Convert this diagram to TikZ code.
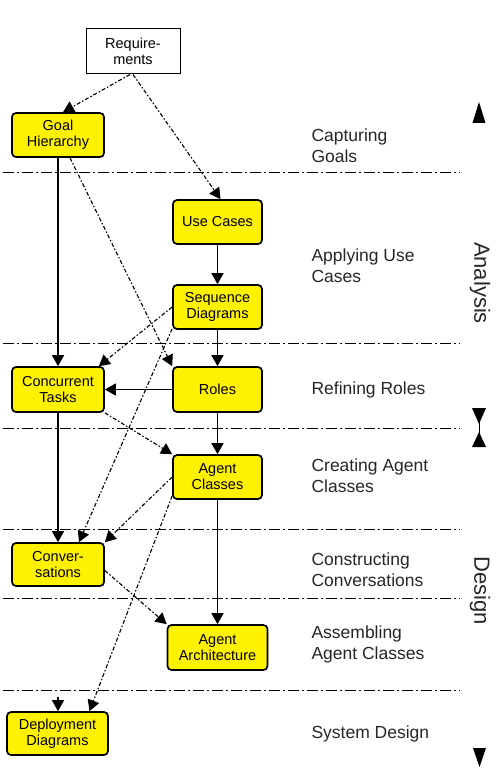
\documentclass[tikz,border=0pt]{standalone}
\usepackage{fontspec}
\setmainfont{Liberation Sans}
\usetikzlibrary{arrows.meta,calc}
\begin{document}
\begin{tikzpicture}[x=1pt,y=-1pt,
  yellowbox/.style={draw=black,line width=1.7pt,fill=yellow,rounded corners=4pt,
    inner sep=0pt,align=center,font=\fontsize{14.5}{16}\selectfont},
  reqbox/.style={draw=black,line width=1pt,fill=white,inner sep=0pt,align=center,
    font=\fontsize{14.5}{16}\selectfont},
  solidarrow/.style={line width=1.5pt,-{Triangle[width=12pt,length=11pt]}},
  dasharrow/.style={line width=1.1pt,dash pattern=on 4pt off 2pt on 1.5pt off 2pt,
    -{Triangle[width=12pt,length=11pt]}},
  sepline/.style={line width=1pt,dash pattern=on 11pt off 3pt on 2pt off 3pt},
  phase/.style={anchor=west,align=left,font=\fontsize{17.5}{21}\selectfont,text=black!85},
  sidelabel/.style={rotate=-90,font=\fontsize{22}{24}\selectfont,text=black!85},
]
\useasboundingbox (0,0) rectangle (500,773);

% separator lines
\foreach \yy in {172,343,428,529,598,690}
  \draw[sepline] (3,\yy) -- (460,\yy);

% boxes
\node[reqbox,minimum width=94pt,minimum height=45pt] (req) at (133,51.5) {Require-\\ments};
\node[yellowbox,minimum width=92pt,minimum height=44pt] (goal) at (58,135) {Goal\\Hierarchy};
\node[yellowbox,minimum width=89pt,minimum height=44pt] (use) at (217.5,222) {Use Cases};
\node[yellowbox,minimum width=89pt,minimum height=44pt] (seq) at (217.5,307) {Sequence\\Diagrams};
\node[yellowbox,minimum width=92pt,minimum height=45pt] (conc) at (58,389.5) {Concurrent\\Tasks};
\node[yellowbox,minimum width=89pt,minimum height=45pt] (roles) at (217.5,389.5) {Roles};
\node[yellowbox,minimum width=89pt,minimum height=44pt] (agent) at (217.5,477) {Agent\\Classes};
\node[yellowbox,minimum width=92pt,minimum height=43pt] (conv) at (58,564.5) {Conver-\\sations};
\node[yellowbox,minimum width=100pt,minimum height=45pt] (arch) at (217.5,647.5) {Agent\\Architecture};
\node[yellowbox,minimum width=101pt,minimum height=43pt] (dep) at (57.5,733.5) {Deployment\\Diagrams};

% phase labels
\node[phase] (l1) at (308,146) {Capturing\\Goals};
\node[phase] (l2) at (308,266) {Applying Use\\Cases};
\node[phase] (l3) at (308,390) {Refining Roles};
\node[phase] (l4) at (308,476) {Creating Agent\\Classes};
\node[phase] (l5) at (308,570) {Constructing\\Conversations};
\node[phase] (l6) at (308,644) {Assembling\\Agent Classes};
\node[phase] (l7) at (308,734) {System Design};

% side labels
\node[sidelabel] (ana) at (480,283) {Analysis};
\node[sidelabel] (des) at (480,591) {Design};
\fill (472.5,123) -- (485.5,123) -- (479,102) -- cycle;
\fill (472,408) -- (486,408) -- (479,424) -- cycle;
\draw[line width=1pt] (479,422) -- (479,434);
\fill (479,432) -- (472,447) -- (486,447) -- cycle;
\fill (473,748) -- (486,748) -- (479.5,767) -- cycle;

% solid connectors
\draw[solidarrow] (goal.south) -- (conc.north);
\draw[solidarrow] (use.south) -- (seq.north);
\draw[solidarrow] (seq.south) -- (roles.north);
\draw[solidarrow] (roles.west) -- (conc.east);
\draw[solidarrow] (roles.south) -- (agent.north);
\draw[solidarrow] (agent.south) -- (arch.north);
\draw[solidarrow] (conc.south) -- (conv.north);
\coordinate (depin) at (58,697);
\draw[solidarrow] (depin) -- (dep.north -| depin);

% dashed connectors
\draw[dasharrow] ($(req.south)+(-3,0)$) -- ($(goal.north)+(5,0)$);
\draw[dasharrow] (req.south) -- ($(use.north)+(3,0)$);
\draw[dasharrow] ($(goal.south)+(12,0)$) -- (roles.north west);
\draw[dasharrow] (seq.west) -- ($(conc.north east)+(-6,0)$);
\draw[dasharrow] ($(seq.south west)+(0,-1)$) -- ($(conv.north)+(21,0)$);
\draw[dasharrow] (conc.south east) -- (agent.north west);
\draw[dasharrow] (agent.west) -- (conv.north east);
\draw[dasharrow] ($(agent.south west)+(0,-4)$) -- ($(dep.north)+(32,0)$);
\draw[dasharrow] ($(conv.east)+(0,6)$) -- (arch.north west);
\end{tikzpicture}
\end{document}
